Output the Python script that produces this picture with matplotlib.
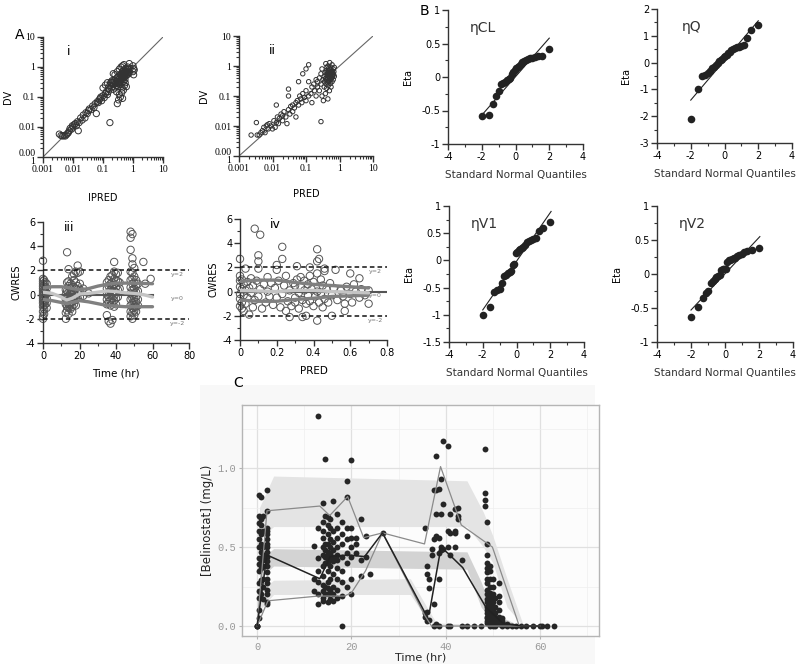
import numpy as np
import matplotlib
matplotlib.use("Agg")
import matplotlib.pyplot as plt
from matplotlib.ticker import (MultipleLocator, LogLocator, NullFormatter, FixedLocator,
                               FuncFormatter)

# ---------------- data ----------------
# A-i : IPRED vs DV
obs_i = [(0.0035, 0.0058), (0.004, 0.0052), (0.0045, 0.005), (0.005, 0.0052), (0.0055, 0.005),
         (0.006, 0.0055), (0.0065, 0.006), (0.007, 0.0065), (0.0075, 0.0075), (0.008, 0.009),
         (0.009, 0.0085), (0.0095, 0.011), (0.01, 0.01), (0.011, 0.012), (0.012, 0.013),
         (0.013, 0.011), (0.014, 0.015), (0.015, 0.0075), (0.016, 0.014), (0.018, 0.02),
         (0.02, 0.017), (0.022, 0.025), (0.025, 0.02), (0.027, 0.03), (0.03, 0.028),
         (0.033, 0.035), (0.035, 0.04), (0.04, 0.038), (0.045, 0.05), (0.05, 0.045),
         (0.055, 0.06), (0.06, 0.028), (0.065, 0.07), (0.07, 0.065), (0.075, 0.08),
         (0.08, 0.09), (0.085, 0.1), (0.09, 0.075), (0.1, 0.11), (0.1, 0.2), (0.11, 0.095),
         (0.12, 0.13), (0.12, 0.25), (0.13, 0.15), (0.14, 0.12), (0.14, 0.3), (0.15, 0.2),
         (0.15, 0.15), (0.16, 0.18), (0.17, 0.25), (0.17, 0.014), (0.18, 0.3), (0.19, 0.32),
         (0.2, 0.22), (0.2, 0.35), (0.21, 0.3), (0.22, 0.18), (0.22, 0.6), (0.23, 0.26),
         (0.24, 0.35), (0.25, 0.2), (0.25, 0.55), (0.26, 0.28), (0.27, 0.4), (0.28, 0.24),
         (0.28, 0.15), (0.29, 0.33), (0.3, 0.3), (0.3, 0.45), (0.3, 0.7), (0.3, 0.06),
         (0.31, 0.22), (0.32, 0.37), (0.33, 0.28), (0.33, 0.08), (0.34, 0.5), (0.35, 0.32),
         (0.35, 0.12), (0.35, 0.85), (0.36, 0.42), (0.37, 0.26), (0.38, 0.36), (0.38, 0.1),
         (0.39, 0.55), (0.4, 0.4), (0.4, 0.3), (0.4, 1.0), (0.41, 0.62), (0.42, 0.45),
         (0.42, 0.14), (0.43, 0.2), (0.44, 0.5), (0.45, 0.38), (0.45, 0.7), (0.45, 0.09),
         (0.45, 1.1), (0.46, 0.55), (0.47, 0.42), (0.48, 0.6), (0.48, 0.17), (0.49, 0.33),
         (0.5, 0.5), (0.5, 0.8), (0.5, 1.2), (0.51, 0.45), (0.52, 0.65), (0.52, 0.24),
         (0.53, 0.56), (0.54, 0.38), (0.55, 0.72), (0.55, 0.3), (0.56, 0.6), (0.57, 0.9),
         (0.58, 0.5), (0.6, 0.68), (0.6, 0.22), (0.62, 0.55), (0.63, 0.8), (0.65, 0.62),
         (0.66, 1.0), (0.68, 0.7), (0.7, 0.58), (0.72, 0.85), (0.75, 1.3), (0.75, 0.65),
         (0.8, 0.9), (1.0, 0.7), (1.05, 0.9), (1.0, 1.1), (1.05, 0.55), (1.1, 0.8)]

# A-ii : PRED vs DV
obs_ii = [(0.0023, 0.005), (0.0033, 0.013), (0.0035, 0.005), (0.004, 0.005), (0.0045, 0.006),
          (0.005, 0.007), (0.0055, 0.009), (0.006, 0.006), (0.0065, 0.01), (0.007, 0.011),
          (0.0075, 0.008), (0.008, 0.012), (0.009, 0.01), (0.01, 0.008), (0.011, 0.015),
          (0.012, 0.009), (0.013, 0.05), (0.013, 0.013), (0.014, 0.02), (0.015, 0.012),
          (0.016, 0.018), (0.018, 0.025), (0.02, 0.015), (0.02, 0.022), (0.022, 0.03),
          (0.025, 0.02), (0.027, 0.012), (0.03, 0.17), (0.03, 0.1), (0.03, 0.035),
          (0.033, 0.025), (0.035, 0.045), (0.04, 0.03), (0.04, 0.05), (0.045, 0.04),
          (0.05, 0.06), (0.05, 0.02), (0.055, 0.07), (0.06, 0.3), (0.06, 0.05), (0.065, 0.1),
          (0.07, 0.08), (0.075, 0.06), (0.08, 0.55), (0.08, 0.12), (0.09, 0.09), (0.1, 0.8),
          (0.1, 0.15), (0.1, 0.07), (0.12, 1.1), (0.12, 0.3), (0.12, 0.1), (0.14, 0.12),
          (0.15, 0.2), (0.15, 0.06), (0.17, 0.25), (0.18, 0.15), (0.2, 0.35), (0.2, 0.1),
          (0.22, 0.3), (0.22, 0.2), (0.25, 0.4), (0.25, 0.15), (0.28, 0.014), (0.28, 0.55),
          (0.28, 0.25), (0.3, 0.8), (0.3, 0.1), (0.32, 0.35), (0.33, 0.07), (0.35, 0.2),
          (0.35, 0.45), (0.36, 0.3), (0.37, 0.6), (0.38, 0.12), (0.38, 0.38), (0.39, 1.2),
          (0.4, 0.25), (0.4, 0.5), (0.4, 0.7), (0.41, 0.18), (0.42, 0.35), (0.42, 0.9),
          (0.43, 0.42), (0.44, 0.28), (0.44, 0.6), (0.45, 0.08), (0.45, 0.5), (0.45, 1.0),
          (0.46, 0.22), (0.46, 0.38), (0.47, 0.7), (0.47, 0.45), (0.48, 0.3), (0.48, 0.55),
          (0.49, 0.85), (0.5, 0.4), (0.5, 0.15), (0.5, 0.62), (0.51, 0.33), (0.51, 1.3),
          (0.52, 0.5), (0.52, 0.75), (0.53, 0.26), (0.53, 0.42), (0.54, 0.58), (0.55, 0.36),
          (0.55, 0.9), (0.56, 0.48), (0.56, 0.2), (0.57, 0.66), (0.58, 0.4), (0.58, 0.55),
          (0.6, 1.1), (0.6, 0.3), (0.6, 0.7), (0.62, 0.5), (0.62, 0.44), (0.63, 0.6),
          (0.65, 0.35), (0.65, 0.8), (0.67, 0.52), (0.68, 0.65), (0.7, 0.45), (0.7, 0.9)]

# A-iii : CWRES by time (time, residuals at that time)
cwres_time = [
    (0.0, [2.8, 1.3, 1.1, 0.9, 0.7, 0.5, 0.3, 0.1, -0.1, -0.3, -0.5, -0.7, -1.0, -1.4, -1.8, -2.0]),
    (0.6, [1.2, 0.8, 0.4, 0.2, 0.0, -0.2, -0.4, -0.6, -0.9, -1.2, -1.6]),
    (1.2, [1.0, 0.6, 0.3, -0.1, -0.5, -0.8]),
    (2.0, [0.9, 0.5, 0.1, -0.3, -0.7, -1.1]),
    (12.5, [0.4, 0.0, -0.4, -0.8, -1.5, -2.0]),
    (13.2, [3.5, 1.0, 0.3, -0.2, -0.6, -1.0, -1.3]),
    (14.0, [2.1, 1.1, 0.7, 0.2, -0.1, -0.5, -0.8, -1.1, -1.6]),
    (15.0, [0.9, 0.5, 0.1, -0.2, -0.4, -0.7, -0.9, -1.2]),
    (16.0, [1.5, 0.8, 0.3, 0.0, -0.3, -0.6, -1.0, -1.4]),
    (17.0, [1.7, 1.2, 0.6, 0.2, -0.2, -0.5, -0.8]),
    (18.0, [1.9, 1.0, 0.5, -0.1, -0.4, -0.9]),
    (19.0, [2.4, 1.8, 0.7, 0.2, -0.3]),
    (20.2, [1.9, 0.9, 0.4, -0.2]),
    (22.0, [0.5, -0.1]),
    (25.0, [0.1]),
    (35.0, [1.0, 0.5, 0.0, -0.4, -0.8, -1.7]),
    (36.0, [1.2, 0.7, 0.2, -0.2, -0.6, -2.2]),
    (37.0, [1.5, 0.9, 0.4, -0.1, -0.5, -0.9, -2.4]),
    (38.0, [1.6, 1.0, 0.6, 0.1, -0.3, -0.7, -2.1]),
    (39.0, [2.7, 1.9, 1.3, 0.8, 0.3, -0.1, -0.5, -1.0]),
    (40.0, [1.7, 1.2, 0.6, 0.2, -0.3, -0.8]),
    (41.0, [1.8, 1.1, 0.4, -0.2]),
    (42.0, [1.0, 0.5]),
    (48.0, [5.2, 4.7, 3.7, 1.9, 1.2, 0.6, 0.1, -0.4, -0.9, -1.4, -1.8]),
    (49.0, [5.0, 3.0, 2.5, 1.8, 1.3, 0.9, 0.4, 0.0, -0.3, -0.7, -1.1, -1.5, -2.0]),
    (50.0, [2.2, 1.5, 1.0, 0.5, 0.1, -0.3, -0.6, -1.0, -1.3, -1.7]),
    (51.0, [1.2, 0.7, 0.2, -0.2, -0.6, -1.0, -1.4]),
    (52.0, [0.9, 0.3, -0.4, -0.9]),
    (55.0, [2.7]),
    (56.0, [0.9]),
    (59.0, [1.3]),
]
trend_t = [0, 5, 10, 13, 16, 20, 25, 30, 35, 40, 45, 50, 55, 60]
trend_hi_t = [0.55, 0.65, 0.65, 0.6, 0.5, 0.4, 0.5, 0.7, 0.85, 0.95, 0.95, 0.95, 0.92, 0.9]
trend_mid_t = [0.2, 0.1, -0.2, -0.45, -0.3, 0.05, 0.1, 0.2, 0.3, 0.25, 0.15, 0.1, 0.0, -0.2]
trend_lo_t = [-0.4, -0.5, -0.65, -0.75, -0.65, -0.5, -0.6, -0.75, -0.9, -0.95, -1.0, -1.0, -1.0, -1.0]

# A-iv : CWRES vs PRED
cwres_pred = [(0.0, 2.7), (0.0, 1.3), (0.0, 0.9), (0.0, 0.4), (0.0, -0.2), (0.0, -0.6), (0.0, -1.2),
              (0.01, 1.0), (0.01, 0.2), (0.01, -0.9), (0.01, -1.4), (0.02, 0.6), (0.02, -0.3),
              (0.02, -1.6), (0.03, 1.9), (0.03, 0.1), (0.03, -1.0), (0.04, 0.8), (0.04, -0.5),
              (0.05, -1.9), (0.05, 0.3), (0.06, -0.1), (0.06, 1.1), (0.07, -1.3), (0.07, 0.5),
              (0.08, 5.2), (0.08, -0.7), (0.09, 0.9), (0.1, 3.0), (0.1, 2.5), (0.1, 1.9),
              (0.1, -0.4), (0.11, 4.7), (0.11, 0.2), (0.12, -1.4), (0.13, 0.6), (0.14, -0.9),
              (0.15, 1.2), (0.15, 0.0), (0.16, -0.4), (0.17, 0.7), (0.18, -1.1), (0.19, 0.3),
              (0.2, 2.2), (0.2, 1.8), (0.2, -0.5), (0.21, 0.9), (0.22, -1.3), (0.23, 3.7),
              (0.23, 2.7), (0.23, -0.2), (0.24, 0.5), (0.25, -1.6), (0.25, 1.3), (0.26, -0.8),
              (0.27, -2.1), (0.27, 0.1), (0.28, -1.2), (0.29, 0.7), (0.3, -0.5), (0.3, 0.5),
              (0.3, -0.9), (0.31, 2.1), (0.31, 1.0), (0.32, -0.1), (0.32, -1.4), (0.33, 0.4),
              (0.33, 1.2), (0.34, -2.1), (0.34, -0.7), (0.35, 0.9), (0.35, 0.1), (0.36, -2.0),
              (0.36, -1.0), (0.37, 0.6), (0.37, -0.3), (0.38, 2.0), (0.38, 1.3), (0.38, -0.8),
              (0.39, 0.2), (0.4, -1.2), (0.4, 0.8), (0.41, -0.4), (0.42, 3.5), (0.42, 2.5),
              (0.42, -2.4), (0.42, 1.5), (0.42, 0.0), (0.43, 2.7), (0.43, -0.9), (0.44, 1.0),
              (0.44, -0.2), (0.45, 0.5), (0.45, -1.3), (0.46, 1.9), (0.46, 1.7), (0.46, -0.6),
              (0.47, 0.2), (0.48, -0.9), (0.49, 0.7), (0.5, -2.0), (0.5, -0.3), (0.51, 0.3),
              (0.52, 1.8), (0.53, -0.7), (0.55, 0.1), (0.56, -0.4), (0.57, -1.6), (0.57, -1.0),
              (0.58, 0.4), (0.6, 1.5), (0.6, -0.2), (0.61, -0.9), (0.62, 0.6), (0.63, 0.0),
              (0.65, 1.1), (0.65, -0.5), (0.66, 0.2), (0.68, -0.3), (0.7, -1.0), (0.7, 0.1)]
trend_p = [0.0, 0.1, 0.2, 0.3, 0.4, 0.5, 0.6, 0.7]
trend_hi_p = [0.85, 0.95, 0.95, 0.75, 0.6, 0.5, 0.4, 0.3]
trend_mid_p = [0.1, 0.05, 0.0, 0.1, 0.1, 0.0, -0.05, -0.1]
trend_lo_p = [-0.7, -0.8, -0.8, -0.65, -0.55, -0.4, -0.35, -0.3]

# B : eta QQ plots
quantiles = [-2.01, -1.576, -1.322, -1.134, -0.979, -0.845, -0.725, -0.613, -0.509, -0.41,
             -0.315, -0.223, -0.133, -0.044, 0.044, 0.133, 0.223, 0.315, 0.41, 0.509, 0.613,
             0.725, 0.845, 0.979, 1.134, 1.322, 1.576, 2.01]
eta_cl = [-0.58, -0.57, -0.41, -0.29, -0.21, -0.11, -0.09, -0.07, -0.05, -0.03, -0.02, 0.05, 0.08,
          0.11, 0.13, 0.15, 0.17, 0.19, 0.22, 0.24, 0.25, 0.27, 0.28, 0.29, 0.30, 0.31, 0.31, 0.42]
eta_q = [-2.1, -0.99, -0.5, -0.45, -0.38, -0.3, -0.22, -0.18, -0.1, -0.02, 0.05, 0.1, 0.15, 0.2,
         0.25, 0.3, 0.35, 0.4, 0.46, 0.52, 0.56, 0.58, 0.6, 0.62, 0.64, 0.9, 1.21, 1.4]
eta_v1 = [-1.01, -0.85, -0.58, -0.55, -0.52, -0.41, -0.29, -0.26, -0.23, -0.21, -0.19, -0.09,
          -0.06, 0.13, 0.16, 0.19, 0.21, 0.23, 0.25, 0.28, 0.33, 0.35, 0.37, 0.39, 0.41, 0.54,
          0.6, 0.7]
eta_v2 = [-0.63, -0.49, -0.36, -0.28, -0.25, -0.13, -0.11, -0.08, -0.05, -0.03, -0.01, 0.06,
          0.07, 0.07, 0.08, 0.17, 0.2, 0.21, 0.22, 0.23, 0.24, 0.26, 0.28, 0.3, 0.32, 0.34,
          0.35, 0.38]
qq_lines = {"cl": ((-2, -0.57), (2, 0.58)), "q": ((-2, -1.4), (2, 1.56)),
            "v1": ((-2, -0.91), (2.05, 0.9)), "v2": ((-2, -0.53), (2.05, 0.55))}

# C : VPC, observed concentrations grouped by time
conc_obs = [
    (0.0, [0.0, 0.0, 0.0]),
    (0.5, [0.05, 0.1, 0.18, 0.22, 0.27, 0.35, 0.39, 0.43, 0.5, 0.55, 0.6, 0.65, 0.7, 0.83]),
    (0.9, [0.2, 0.29, 0.37, 0.41, 0.47, 0.52, 0.58, 0.64, 0.68, 0.82]),
    (1.3, [0.17, 0.25, 0.3, 0.38, 0.42, 0.45, 0.5, 0.6, 0.7]),
    (2.1, [0.14, 0.15, 0.2, 0.23, 0.27, 0.3, 0.34, 0.38, 0.41, 0.44, 0.47, 0.5, 0.52, 0.55,
           0.58, 0.6, 0.62, 0.73, 0.86]),
    (12.0, [0.51, 0.22, 0.3]),
    (13.0, [1.33, 0.14, 0.2, 0.28, 0.35, 0.43, 0.62]),
    (14.0, [0.78, 0.16, 0.18, 0.22, 0.26, 0.32, 0.38, 0.45, 0.5, 0.56, 0.6, 0.66]),
    (14.5, [1.06, 0.2, 0.25, 0.4, 0.44, 0.48, 0.52, 0.7]),
    (15.0, [0.15, 0.2, 0.24, 0.28, 0.35, 0.4, 0.42, 0.45, 0.47, 0.52, 0.58, 0.64, 0.69]),
    (15.5, [0.17, 0.22, 0.3, 0.38, 0.43, 0.46, 0.5, 0.55, 0.62, 0.68]),
    (16.0, [0.79, 0.16, 0.2, 0.25, 0.33, 0.41, 0.44, 0.48, 0.53, 0.6]),
    (17.0, [0.18, 0.23, 0.3, 0.37, 0.42, 0.45, 0.5, 0.56, 0.62, 0.71]),
    (18.0, [0.0, 0.19, 0.28, 0.35, 0.44, 0.52, 0.58, 0.66]),
    (19.0, [0.92, 0.82, 0.25, 0.4, 0.46, 0.55, 0.62]),
    (20.0, [1.05, 0.2, 0.3, 0.44, 0.5, 0.56, 0.62]),
    (21.0, [0.46, 0.52, 0.56]),
    (22.0, [0.68, 0.32, 0.42]),
    (23.0, [0.57, 0.44]),
    (24.0, [0.33]),
    (26.6, [0.59]),
    (35.5, [0.62, 0.08, 0.06]),
    (36.0, [0.33, 0.38, 0.09, 0.03]),
    (36.5, [0.3, 0.24, 0.04]),
    (37.0, [0.49, 0.45]),
    (37.5, [0.86, 0.55, 0.14, 0.0]),
    (38.0, [1.08, 0.86, 0.71, 0.57, 0.01]),
    (38.5, [0.87, 0.56, 0.46, 0.3, 0.0]),
    (39.0, [0.93, 0.71, 0.5, 0.48]),
    (39.5, [1.17, 0.77, 0.49]),
    (40.5, [1.14, 0.6, 0.5, 0.0]),
    (41.0, [0.71, 0.59, 0.45, 0.0]),
    (42.0, [0.74, 0.6, 0.59, 0.5]),
    (42.5, [0.75, 0.7, 0.68]),
    (43.5, [0.42, 0.0]),
    (44.5, [0.57, 0.0]),
    (46.0, [0.0]),
    (47.5, [0.0]),
    (48.3, [1.12, 0.84, 0.8, 0.76]),
    (48.8, [0.66, 0.52, 0.45, 0.4, 0.37, 0.34, 0.3, 0.27, 0.23, 0.2, 0.17, 0.15, 0.12, 0.1,
            0.08, 0.06, 0.05, 0.03, 0.02]),
    (49.3, [0.38, 0.35, 0.3, 0.25, 0.21, 0.18, 0.15, 0.13, 0.1, 0.08, 0.06, 0.05, 0.04, 0.03,
            0.02, 0.01, 0.0]),
    (50.0, [0.3, 0.25, 0.2, 0.15, 0.12, 0.1, 0.08, 0.06, 0.04, 0.03, 0.02, 0.01, 0.0]),
    (50.5, [0.18, 0.12, 0.08, 0.05, 0.03, 0.02, 0.01, 0.0]),
    (51.2, [0.27, 0.19, 0.15, 0.1, 0.06, 0.04, 0.02, 0.01]),
    (52.0, [0.05, 0.03, 0.02, 0.01, 0.0]),
    (53.0, [0.01, 0.0]),
    (54.0, [0.0]),
    (55.0, [0.0]),
    (56.0, [0.0]),
    (57.0, [0.0]),
    (58.5, [0.0]),
    (60.0, [0.0]),
    (60.4, [0.0]),
    (61.5, [0.0]),
    (63.0, [0.0]),
]
pi_hi_t = [0.5, 3.5, 44.5, 48.0, 50.0, 53.0, 56.5]
pi_hi_lo = [0.55, 0.63, 0.63, 0.5, 0.4, 0.12, 0.0]
pi_hi_hi = [0.75, 0.95, 0.92, 0.72, 0.57, 0.3, 0.0]
pi_med_t = [0.5, 3.5, 44.5, 47.5, 50.0, 56.0]
pi_med_lo = [0.3, 0.38, 0.36, 0.12, 0.03, 0.0]
pi_med_hi = [0.42, 0.49, 0.47, 0.28, 0.08, 0.0]
pi_lo_t = [0.5, 3.5, 32.5, 36.0, 38.0, 56.0]
pi_lo_lo = [0.1, 0.2, 0.2, 0.04, 0.0, 0.0]
pi_lo_hi = [0.22, 0.29, 0.3, 0.12, 0.02, 0.0]
obs_p95_t = [0, 2.1, 13.3, 15.4, 19.2, 22.6, 26.6, 35.5, 38.9, 43.3, 49.9, 55.6, 60]
obs_p95 = [0, 0.73, 0.76, 0.70, 0.82, 0.56, 0.59, 0.52, 1.01, 0.64, 0.50, 0.0, 0.0]
obs_p50_t = [0, 2.1, 13.3, 15.5, 19.2, 22.8, 26.6, 35.5, 36.5, 39, 40.5, 43.6, 48.5, 52, 56, 60]
obs_p50 = [0, 0.45, 0.3, 0.44, 0.45, 0.44, 0.59, 0.09, 0.08, 0.5, 0.46, 0.37, 0.12, 0.02, 0.0, 0.0]
obs_p05_t = [0, 2.3, 13, 18.5, 20, 23, 26.6, 35.5, 37, 40, 45, 50, 55, 60]
obs_p05 = [0, 0.16, 0.19, 0.19, 0.21, 0.35, 0.59, 0.07, 0.0, 0.0, 0.0, 0.0, 0.0, 0.0]

# ---------------- layout ----------------
W, H = 800, 664
fig = plt.figure(figsize=(W / 100, H / 100), dpi=100)
fig.patch.set_facecolor("white")


def rect(l, t, r, b):
    return [l / W, 1 - b / H, (r - l) / W, (b - t) / H]


plain = FuncFormatter(lambda v, p: f"{v:g}")


def prism(ax):
    for s in ("top", "right"):
        ax.spines[s].set_visible(False)
    for s in ("left", "bottom"):
        ax.spines[s].set_color("#333333")
        ax.spines[s].set_linewidth(1.0)
    ax.tick_params(which="major", direction="out", length=4, width=1, color="#333333",
                   labelsize=7, pad=1.5)
    ax.tick_params(which="minor", direction="out", length=2.2, width=0.8, color="#333333")
    ax.set_facecolor("none")


sans = "DejaVu Sans"
serif = "Liberation Serif"

# light background of the VPC image
bg = plt.Rectangle((200 / W, 0), 395 / W, (H - 385) / H, transform=fig.transFigure,
                   facecolor="#f8f8f8", edgecolor="none", zorder=-10)
fig.add_artist(bg)

# ---- A-i, A-ii ----
for key, data, r, xl, ms in [("i", obs_i, (43, 37, 163, 157), "IPRED", 20),
                             ("ii", obs_ii, (239, 36, 373, 156), "PRED", 10)]:
    ax = fig.add_axes(rect(*r))
    prism(ax)
    arr = np.array(data)
    ax.set_xscale("log")
    ax.set_yscale("log")
    ax.set_xlim(0.001, 10)
    ax.set_ylim(0.001, 10)
    ax.plot([0.001, 10], [0.001, 10], color="#666666", lw=0.8, zorder=1)
    ax.scatter(arr[:, 0], arr[:, 1], s=ms, facecolors="none", edgecolors="#333333",
               linewidths=0.7, zorder=2)
    ticks = [0.001, 0.01, 0.1, 1, 10]
    ax.xaxis.set_major_locator(FixedLocator(ticks))
    ax.yaxis.set_major_locator(FixedLocator(ticks))
    ax.set_xticklabels(["0.001", "0.01", "0.1", "1", "10"], family=serif)
    ax.set_yticklabels(["0.00\n1", "0.01", "0.1", "1", "10"], family=serif, linespacing=0.8)
    for a in (ax.xaxis, ax.yaxis):
        a.set_minor_locator(LogLocator(base=10, subs=np.arange(2, 10), numticks=20))
        a.set_minor_formatter(NullFormatter())
    ax.set_xlabel(xl, fontsize=7, family=sans, labelpad=14 if key == "i" else 12)
    ax.set_ylabel("DV", fontsize=7, family=sans, labelpad=4)
    ax.text(0.2 if key == "i" else 0.22, 0.93, key, transform=ax.transAxes, fontsize=9,
            family=sans, va="top")

fig.text(15 / W, 1 - 35 / H, "A", fontsize=10, family=sans, va="center")

# ---- A-iii, A-iv ----
panels = [
    ("iii", (43, 222, 189, 343), (0, 80), 20, 10, "Time (hr)"),
    ("iv", (240, 219, 387, 340), (0, 0.8), 0.2, 0.1, "PRED"),
]
for key, r, xlim, xmaj, xmin, xl in panels:
    ax = fig.add_axes(rect(*r))
    prism(ax)
    ax.set_xlim(*xlim)
    ax.set_ylim(-4, 6)
    ax.xaxis.set_major_locator(MultipleLocator(xmaj))
    ax.xaxis.set_minor_locator(MultipleLocator(xmin))
    ax.yaxis.set_major_locator(MultipleLocator(2))
    ax.yaxis.set_minor_locator(MultipleLocator(1))
    ax.xaxis.set_major_formatter(plain)
    ax.yaxis.set_major_formatter(plain)
    if key == "iii":
        xs, ys = [], []
        for t, vals in cwres_time:
            xs += [t] * len(vals)
            ys += vals
        tx, hi, mid, lo = trend_t, trend_hi_t, trend_mid_t, trend_lo_t
        zero_end = 60
    else:
        arr = np.array(cwres_pred)
        xs, ys = arr[:, 0], arr[:, 1]
        tx, hi, mid, lo = trend_p, trend_hi_p, trend_mid_p, trend_lo_p
        zero_end = 0.8
    ax.scatter(xs, ys, s=28, facecolors="none", edgecolors="#555555", linewidths=0.7, zorder=2,
               clip_on=False)
    ax.plot([xlim[0], zero_end], [0, 0], color="#555555", lw=1.5, zorder=3)
    ax.plot(tx, hi, color="#808080", lw=2.4, zorder=4, solid_capstyle="round")
    ax.plot(tx, lo, color="#808080", lw=2.4, zorder=4, solid_capstyle="round")
    ax.plot(tx, mid, color="#c4c4c4", lw=2.4, zorder=4, solid_capstyle="round")
    for yv in (2, -2):
        ax.axhline(yv, color="#111111", lw=1.1, ls=(0, (3, 2)), zorder=3)
    xr = xlim[1] - xlim[0]
    ax.text(xlim[0] + 0.92 * xr, 1.5, "y=2", fontsize=4.5, color="#777777", ha="center")
    ax.text(xlim[0] + 0.92 * xr, -0.45, "y=0", fontsize=4.5, color="#777777", ha="center")
    ax.text(xlim[0] + 0.92 * xr, -2.55, "y=-2", fontsize=4.5, color="#777777", ha="center")
    ax.set_xlabel(xl, fontsize=7.5, family=sans, labelpad=6)
    ax.set_ylabel("CWRES", fontsize=7, family=sans, labelpad=3)
    ax.text(0.14 if key == "iii" else 0.2, 1.01, key, transform=ax.transAxes, fontsize=9,
            family=sans, va="top")

# ---- B ----
b_panels = [
    ("\u03b7CL", eta_cl, "cl", (448, 10, 583, 144), (-1, 1), 0.5),
    ("\u03b7Q", eta_q, "q", (657, 9, 792, 143), (-3, 2), 1),
    ("\u03b7V1", eta_v1, "v1", (449, 206, 584, 342), (-1.5, 1), 0.5),
    ("\u03b7V2", eta_v2, "v2", (657, 206, 793, 342), (-1, 1), 0.5),
]
for name, eta, key, r, ylim, ymaj in b_panels:
    ax = fig.add_axes(rect(*r))
    prism(ax)
    ax.set_xlim(-4, 4)
    ax.set_ylim(*ylim)
    ax.xaxis.set_major_locator(MultipleLocator(2))
    ax.xaxis.set_minor_locator(MultipleLocator(1))
    ax.yaxis.set_major_locator(MultipleLocator(ymaj))
    ax.yaxis.set_minor_locator(MultipleLocator(ymaj / 2))
    ax.xaxis.set_major_formatter(plain)
    ax.yaxis.set_major_formatter(plain)
    (x0, y0), (x1, y1) = qq_lines[key]
    ax.plot([x0, x1], [y0, y1], color="#222222", lw=0.8, zorder=2)
    ax.scatter(quantiles, eta, s=30, color="#222222", zorder=3, linewidths=0)
    ax.set_xlabel("Standard Normal Quantiles", fontsize=7.5, family=sans, color="#333333",
                  labelpad=6)
    ax.set_ylabel("Eta", fontsize=7, family=sans, labelpad=6)
    ax.text(0.16 if key != "q" else 0.18, 0.92, name, transform=ax.transAxes, fontsize=10,
            family=sans, va="top", color="#333333")

fig.text(420 / W, 1 - 11 / H, "B", fontsize=10, family=sans, va="center")

# ---- C ----
ax = fig.add_axes(rect(242, 405, 599, 636))
ax.set_facecolor("#fcfcfc")
for s in ax.spines.values():
    s.set_color("#b5b5b5")
    s.set_linewidth(1.0)
ax.set_xlim(-3.2, 72.5)
ax.set_ylim(-0.063, 1.40)
ax.set_xticks([0, 20, 40, 60])
ax.set_yticks([0, 0.5, 1.0])
ax.set_xticks([10, 30, 50, 70], minor=True)
ax.set_yticks([0.25, 0.75, 1.25], minor=True)
ax.set_xticklabels(["0", "20", "40", "60"], family="Liberation Mono")
ax.set_yticklabels(["0.0", "0.5", "1.0"], family="Liberation Mono")
ax.grid(which="major", color="#e0e0e0", lw=0.9)
ax.grid(which="minor", color="#eeeeee", lw=0.5)
ax.set_axisbelow(True)
ax.tick_params(which="major", length=2.5, width=0.8, color="#b5b5b5", labelsize=7.5,
               labelcolor="#999999", pad=1.5)
ax.tick_params(which="minor", length=0)

ax.fill_between(pi_hi_t, pi_hi_lo, pi_hi_hi, color="#e4e4e4", lw=0, zorder=1)
ax.fill_between(pi_lo_t, pi_lo_lo, pi_lo_hi, color="#e4e4e4", lw=0, zorder=1)
ax.fill_between(pi_med_t, pi_med_lo, pi_med_hi, color="#d3d3d3", lw=0, zorder=1)

cx, cy = [], []
for t, vals in conc_obs:
    cx += [t] * len(vals)
    cy += vals
ax.scatter(cx, cy, s=18, color="#262626", linewidths=0, zorder=3)
ax.plot(obs_p95_t, obs_p95, color="#8a8a8a", lw=0.9, zorder=4)
ax.plot(obs_p05_t, obs_p05, color="#8a8a8a", lw=0.9, zorder=4)
ax.plot(obs_p50_t, obs_p50, color="#222222", lw=1.1, zorder=4)

ax.set_xlabel("Time (hr)", fontsize=8, family=sans, color="#222222", labelpad=0.5)
ax.set_ylabel("[Belinostat] (mg/L)", fontsize=8.5, family=sans, color="#222222", labelpad=3)
fig.text(233 / W, 1 - 383 / H, "C", fontsize=10, family=sans, va="center")

fig.savefig("out.png", dpi=100, facecolor="white")
